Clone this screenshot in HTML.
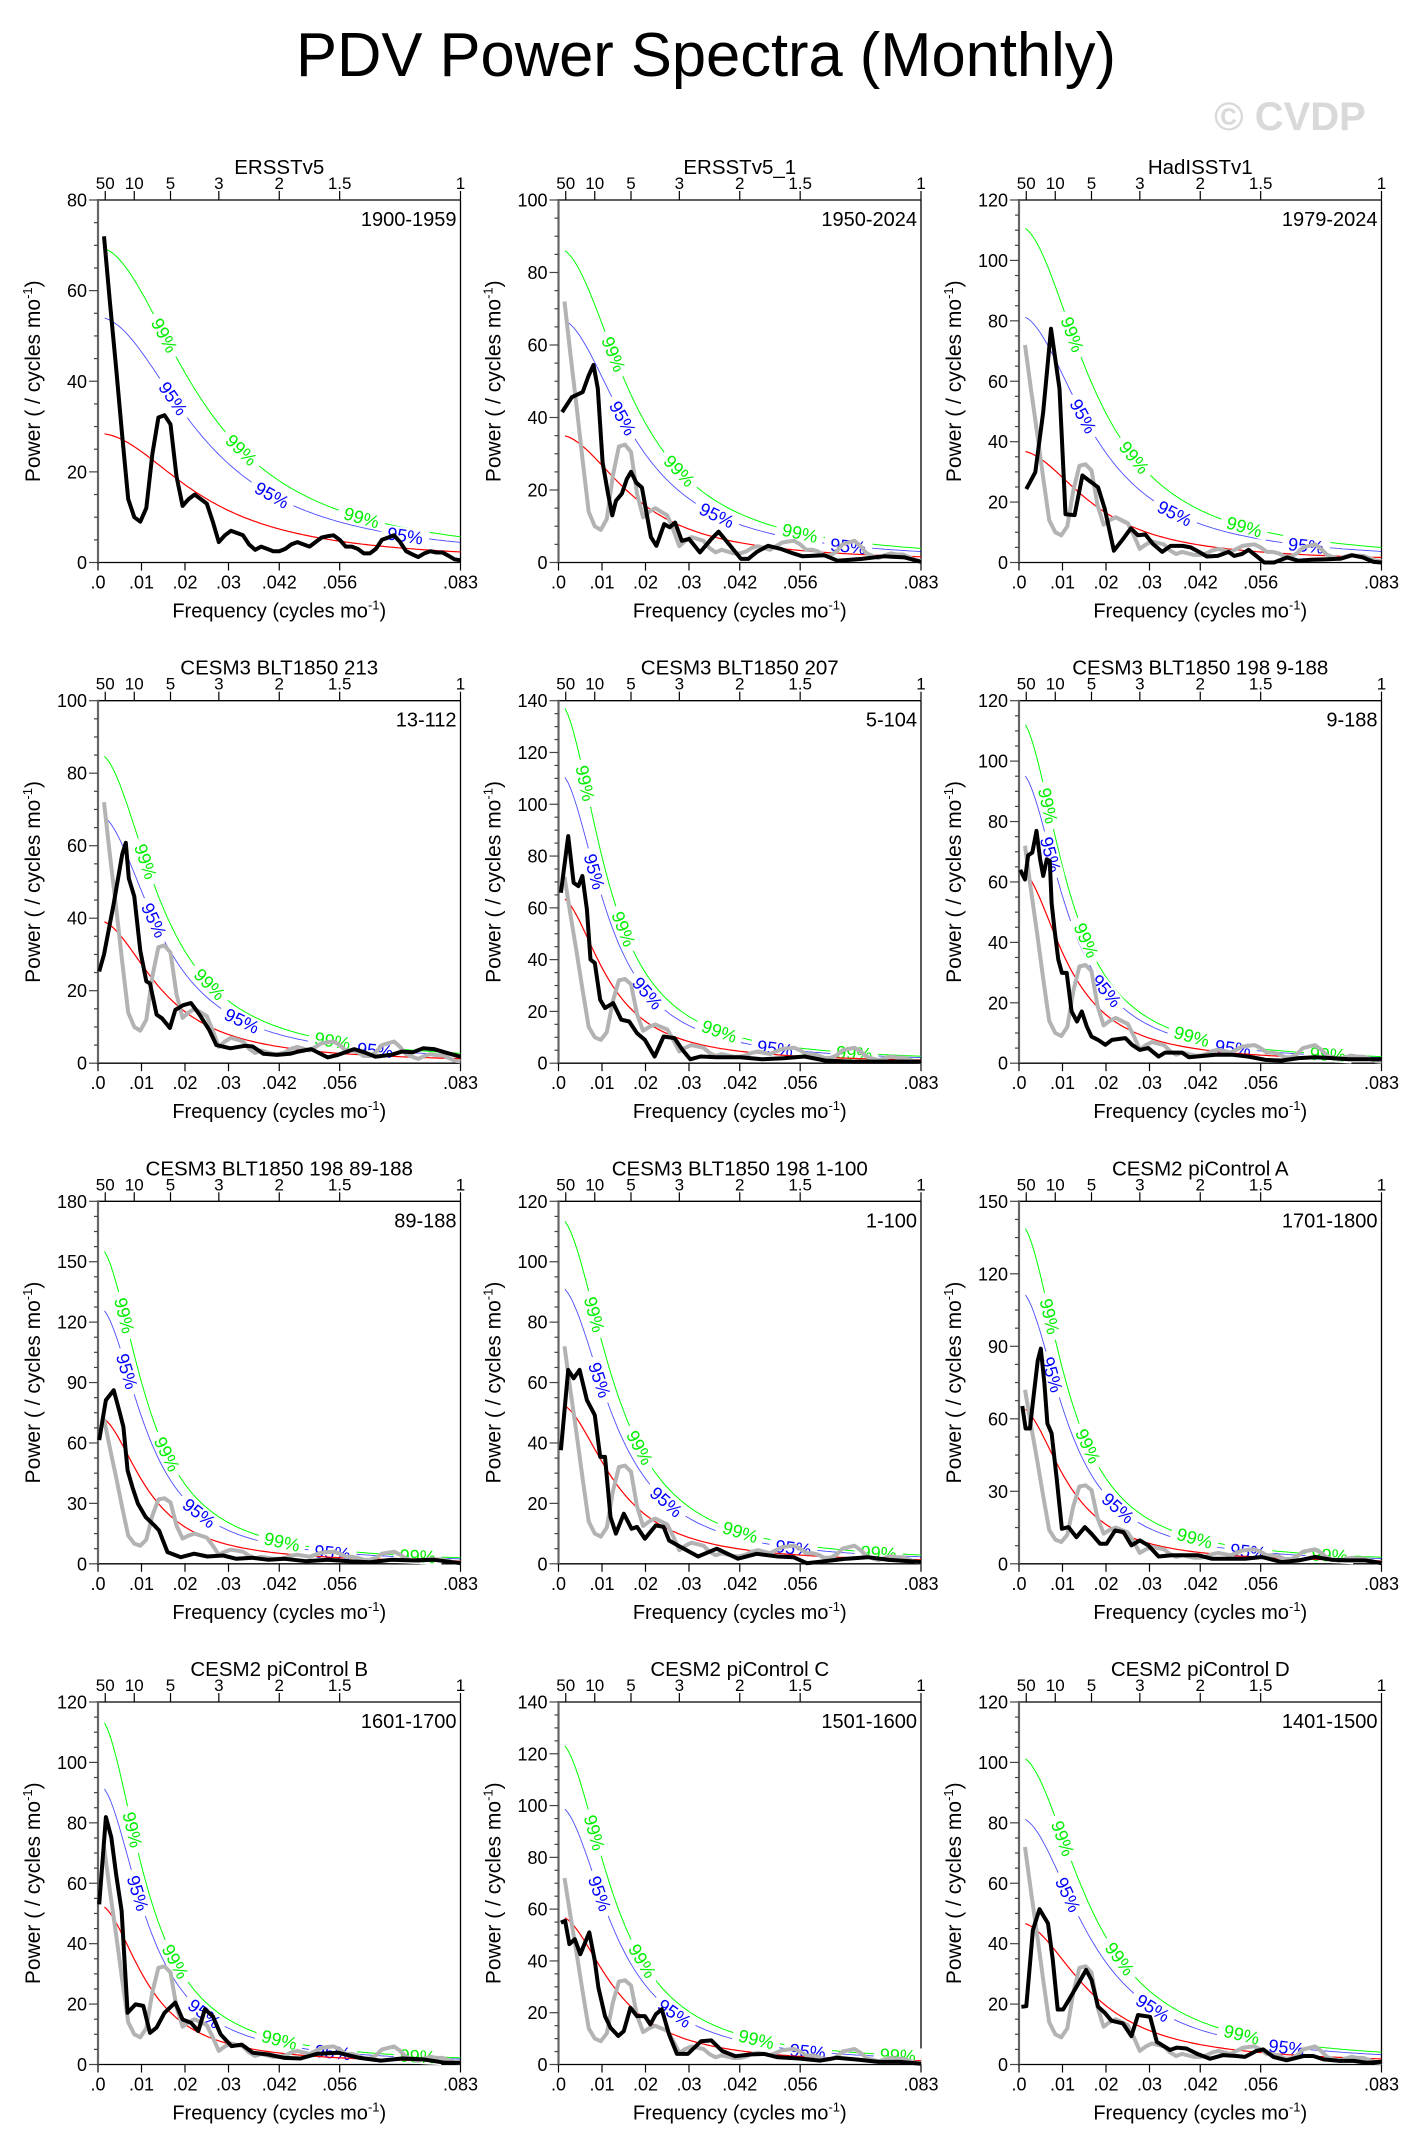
<!DOCTYPE html>
<html><head><meta charset="utf-8"><style>
html,body{margin:0;padding:0;background:#fff;}
svg{display:block;font-family:"Liberation Sans",sans-serif;}
</style></head><body>
<svg id="chart" width="1412" height="2154" viewBox="0 0 1412 2154" xmlns="http://www.w3.org/2000/svg">
<rect width="1412" height="2154" fill="#fff"/>
<text x="706" y="76" text-anchor="middle" font-size="62" textLength="820" lengthAdjust="spacingAndGlyphs">PDV Power Spectra (Monthly)</text>
<text x="1290" y="130" text-anchor="middle" font-size="40" font-weight="bold" fill="#d9d9d9">© CVDP</text>
</svg>
<script>
// shared frequency grid index (f = k/720 cycles per month)
const titles = ["ERSSTv5","ERSSTv5_1","HadISSTv1","CESM3 BLT1850 213","CESM3 BLT1850 207","CESM3 BLT1850 198 9-188","CESM3 BLT1850 198 89-188","CESM3 BLT1850 198 1-100","CESM2 piControl A","CESM2 piControl B","CESM2 piControl C","CESM2 piControl D"];
const years = ["1900-1959","1950-2024","1979-2024","13-112","5-104","9-188","89-188","1-100","1701-1800","1601-1700","1501-1600","1401-1500"];
const yMaxes = [80,100,120,100,140,120,180,120,150,120,140,120];
const ySteps = [20,20,20,20,20,20,30,20,30,20,20,20];
const xTickVals = [0,0.01,0.02,0.03,0.041667,0.055556,0.083333];
const xTickLabels = [".0",".01",".02",".03",".042",".056",".083"];
const periodVals = [50,10,5,3,2,1.5,1];
const periodLabels = ["50","10","5","3","2","1.5","1"];
// red-noise fit: value at f=0, lag-1 autocorrelation
const red0 = [28.5,35.2,37,39.4,64.5,64,73,52.9,65,53,57.4,47];
const redR = [0.857,0.894,0.894,0.91,0.93,0.93,0.93,0.92,0.93,0.93,0.92,0.9];
const fac99 = [2.44,2.46,3.01,2.17,2.16,1.78,2.16,2.17,2.17,2.17,2.17,2.17];
const fac95 = [1.9,1.91,2.21,1.74,1.74,1.51,1.75,1.74,1.74,1.75,1.74,1.74];
// label positions (frequency) along threshold curves
const lab99 = [[.0153,.033,.0606],[.0127,.0278,.0555],[.0123,.0265,.0518],[.011,.0257,.0539],[.0062,.015,.037,.068],[.0067,.0155,.0397,.071],[.0061,.0159,.0423,.0735],[.0083,.0187,.0418,.0736],[.0071,.0159,.0404,.0714],[.008,.0178,.0417,.0735],[.0083,.0193,.0455,.078],[.0101,.0232,.0512]];
const lab95 = [[.0173,.040,.0706],[.0148,.0364,.0666],[.0148,.0358,.066],[.0129,.0331,.0637],[.0083,.0205,.0498],[.0073,.0201,.0492],[.0067,.0233,.0539],[.0095,.0248,.054],[.0077,.0228,.0527],[.0092,.0245,.054],[.0095,.0267,.0573],[.0113,.0308,.0615]];
// spectra: k indices and power values
const k1 = [1,2,3,4,5,6,7,8,9,10,11,12,13,14,15,16,17,18,19,20,21,22,23,24,25,26,27,28,29,30,31,32,33,34,35,36,37,38,39,40,41,42,43,44,45,46,47,48,49,50,51,52,53,54,55,56,57,58,59,60];
const p1 = [72,57,43,28,14,10,9,12,24,32,32.5,30.5,19,12.5,14,15,14,13,9,4.5,6,7,6.5,6,4,2.8,3.5,3,2.5,2.5,3,4,4.5,4,3.5,4.5,5.5,5.8,6,5,3.5,3.5,3,2,2,3,5,5.5,6,4.5,2.5,1.8,1.2,2,2.5,2.2,2.2,1.5,0.7,0.5];
const k2 = [0.6,2.2,4,5,5.8,6.5,7.3,8.2,8.9,9.5,10.5,11.3,12,12.9,13.8,15.3,16.2,17.5,18.4,19.3,20.4,21.6,23.4,25.3,26.5,28,30.2,31.4,32.9,34.7,36.9,38.7,40.4,44,46.2,50.2,53.8,57.3,60];
const p2 = [41.5,45.6,47,51.6,54.5,48,27.6,19,13,17,19,23,25,22,20.7,7,4.6,10.6,9.7,11,6,6.5,2.8,6.5,8.5,5.5,1,1,3,4.6,3.7,2.6,1.7,2,0.5,1,1.7,1.4,0.2];
const k3 = [1.2,2.7,4,5.3,6.7,7.7,9.2,10.5,11.8,13.1,14.2,15.7,17.2,18.5,19.7,20.9,22.2,23.7,25.1,27.1,28.4,29.8,31.1,32.9,34.7,35.6,36.9,38,39.4,40.6,42.2,44.4,46.2,48.4,51.1,53.3,55.1,56.9,58.7,60];
const p3 = [24.3,29.9,49.8,77.4,57.5,16,15.7,28.8,26.8,24.9,17.7,3.9,7.7,11.3,9,9.3,6.1,3.5,5.5,5.5,5,3.5,2,2.2,3.5,2.2,2.8,4.2,2,0,0,1.7,0.6,0.9,1.1,1.3,2.4,1.7,0.2,0];
const k4 = [0.2,1,2.6,4,4.6,5.1,6,7,8,8.6,9.7,10.6,11.9,12.8,14.1,15.4,16.8,18.4,19.6,21.9,24.3,25.6,27.4,29.6,31.8,33.1,35.3,38,39.7,42.4,44.1,45.9,48.5,50.3,52.1,53.8,55.6,57.4,60];
const p4 = [25.3,30,44,57.6,60.8,51,46,31,22.6,22,13.4,12.4,9.7,14.7,16,16.6,13.4,9.2,5,4.1,4.8,4.6,2.6,2.3,2.6,3.2,3.9,1.6,2.3,3.9,3,1.8,2.3,3.2,3,4.1,3.9,3,1.8];
const k5 = [0.4,1.6,2.5,3.3,3.95,4.7,5.3,6,6.9,7.7,9.05,10.4,11.7,13,14.3,15.9,17.4,19.2,20.5,21.8,23.5,26.2,30.1,33.7,37.2,40.7,44.2,48.6,53,60];
const p5 = [65.8,87.7,69.7,68.4,72.3,59.4,40,38.7,24.5,21.3,23.2,16.8,16.1,11.6,9,2.6,10.3,9.7,5.2,1.5,2.6,2.3,2.3,1.5,1.9,2.6,1,0.6,0.6,0.6];
const k6 = [0.2,1,1.5,2.2,2.9,3.5,4,4.6,5.1,5.4,5.9,6.5,7.1,7.9,8.7,9.6,10.4,11.2,12,13.1,14.3,15.4,17.6,18.7,20,21.4,23.1,24.2,27,28.1,30.3,32.5,35.2,38,40.8,43.5,46.3,49,51.8,54.6,57.3,60];
const p6 = [64,60.8,68.8,69.7,76.9,67.5,62,67.5,66.9,53,44,34.3,29.9,29.9,17.1,13.8,17.1,12.2,8.8,7.7,6.1,7.7,8.3,6.1,4.4,5,2.2,3.5,3.5,2,2.4,2.8,2.8,2.2,1.1,0.9,1.7,2,1.7,1.3,1.3,1.3];
const k7 = [0.2,1.3,2.6,3.5,4.2,4.9,5.7,6.6,7.9,9.3,10.1,11.5,13.7,15.9,18.1,20.7,22.9,25.6,28.2,30.9,34.4,38,41.5,45,48.5,52,55.6,60];
const p7 = [61.4,81.3,86.2,76.3,68,46.4,38.1,29.9,23.2,19.1,16.6,5.8,3.3,5,3.6,4.1,2.5,3,2,2.5,1.3,2,1.3,0.8,2,1.7,2,0.3];
const k8 = [0.4,1.6,2.5,3.5,4.7,6,6.9,7.7,8.6,9.5,10.8,12.1,13,14.3,16.1,17.4,18.3,20,23.1,26.2,29.7,32.8,36.3,38.9,41.1,44.2,47.7,51.2,54.7,60];
const p8 = [37.6,64.2,61.4,64.2,54.2,49.2,35.4,35.4,15.5,10,16.6,11.6,12.2,8.3,12.7,12.2,7.7,5.8,2.4,5,1.7,3.3,2.4,2.2,0.2,0.9,1.7,2.2,1.3,0.6];
const k9 = [0.55,1.1,1.8,2.4,3.1,3.6,4.2,4.7,5.4,6.2,7.1,8.2,9.5,10.9,12,13.4,14.5,15.9,17.3,18.6,20,21.4,23.1,25.3,27.5,29.7,31.9,34.6,37.4,40.2,43.5,46.3,49,51.7,54.5,57.3,60];
const p9 = [65.3,56,56,69,84,89,74.7,58,54,36,14.5,15.2,11,15.2,12.4,8.3,8.3,13.8,13.1,7.6,9.7,7.6,3,3.5,3.5,3.5,2.1,2.1,2.1,2.8,0.7,1.4,2.8,1.7,1.4,1.4,0.3];
const k10 = [0.2,1.3,2.2,3,3.9,4.9,6.2,7.5,8.6,9.7,11,12.8,14,15.4,16.6,17.7,19,20.3,22.1,23.8,25.6,28.2,30.9,33.5,36.2,39.7,43.3,46.8,50.3,53.8,57.4,60];
const p10 = [53,81.9,75.2,63,50.9,17.1,19.9,19.4,10.5,12.2,17.1,20.5,14.9,13.8,11.1,18.3,16,10,6.1,6.6,3.9,3.3,2.2,2,3.5,3.9,2.2,1.3,2,1.7,0.6,0.6];
const k11 = [0.4,1.1,1.8,2.7,3.6,5.1,6,6.6,7.7,8.6,9.9,10.8,11.9,13,14.3,15.2,16.1,17.1,18.3,19.6,21.4,23.6,25.3,27.1,29.3,31.9,34.1,36.3,39.8,43.3,46,49.5,53,56.5,60];
const p11 = [54.8,55.5,46.5,48.4,42.6,51,40,29.7,18.7,14.2,11,12.9,21.9,18.7,18.7,15.5,19.4,21.3,11.6,4.1,4.1,9,9.3,5.2,3.2,3.9,4.1,2.8,2.3,1.5,2.6,1.9,1,1,0.3];
const k12 = [0.4,1.2,2.3,3.4,4.8,5.6,6.4,7.3,8.4,10,11.1,12,13.1,14.2,15.3,17.2,18.6,19.7,21.7,22.8,25,26.1,27.7,29.4,31.6,33.8,36,37.4,39.3,40.4,42.1,44.3,47.1,48.7,50.4,53.1,55.4,57.6,60];
const p12 = [19.1,19.3,44.5,51.4,46.7,34.6,18.2,18.2,21.9,27.4,31.3,28,19.1,17.1,14.5,13.6,9.4,16.4,15.8,7.5,4.8,5.6,5.3,3.6,1.9,3.1,2.8,2.5,4.5,5,2.5,1.4,2.8,2.8,1.7,1.2,1.2,0.6,0.9];
const kIdx = [k1,k2,k3,k4,k5,k6,k7,k8,k9,k10,k11,k12];
const powers = [p1,p2,p3,p4,p5,p6,p7,p8,p9,p10,p11,p12];

const NS = "http://www.w3.org/2000/svg";
const svg = document.getElementById("chart");
const FMAX = 0.0833333, W = 362.5, H = 362.5;
const colX = [98, 558.5, 1019], rowY = [200, 700.7, 1201.3, 1702];
function mk(tag, attrs, parent){ const e=document.createElementNS(NS,tag); for(const a in attrs) e.setAttribute(a,attrs[a]); (parent||svg).appendChild(e); return e; }
function redFn(i,f){ const r=redR[i]; return red0[i]*(1-r)*(1-r)/(1-2*r*Math.cos(2*Math.PI*f)+r*r); }

for(let i=0;i<12;i++){
  const x0 = colX[i%3], y0 = rowY[Math.floor(i/3)];
  const ymax = yMaxes[i];
  const X = f => x0 + f/FMAX*W;
  const Y = v => y0 + H - v/ymax*H;
  const g = mk("g",{});
  
  
  const t = mk("text",{x:x0+W/2,y:y0-26,"text-anchor":"middle","font-size":20.5},g); t.textContent=titles[i];
  
  
  const yr = mk("text",{x:x0+W-4,y:y0+26,"text-anchor":"end","font-size":20},g); yr.textContent=years[i];
  
  
  mk("line",{x1:x0,y1:y0,x2:x0+W,y2:y0,stroke:"#000","stroke-width":1.3},g);
  mk("line",{x1:x0+W,y1:y0,x2:x0+W,y2:y0+H,stroke:"#000","stroke-width":1.3},g);
  mk("line",{x1:x0,y1:y0+H,x2:x0+W,y2:y0+H,stroke:"#000","stroke-width":1.3},g);
  mk("line",{x1:x0,y1:y0-1,x2:x0,y2:y0+H+1,stroke:"#666","stroke-width":2.2},g);
  const step = ySteps[i];
  for(let v=0; v<=ymax+1e-6; v+=step/4){
    const major = Math.abs(v/step-Math.round(v/step))<1e-6;
    mk("line",{x1:x0-(major?9:4),y1:Y(v),x2:x0,y2:Y(v),stroke:"#444","stroke-width":1.2},g);
    if(major){ const tl=mk("text",{x:x0-11,y:Y(v)+6.5,"text-anchor":"end","font-size":18},g); tl.textContent=String(Math.round(v));
      
       }
  }
  xTickVals.forEach((f,j)=>{
    mk("line",{x1:X(f),y1:y0+H,x2:X(f),y2:y0+H+8,stroke:"#000","stroke-width":1.2},g);
    const tl=mk("text",{x:X(f),y:y0+H+26,"text-anchor":"middle","font-size":18},g); tl.textContent=xTickLabels[j];
    
    
  });
  periodVals.forEach((p,j)=>{
    const f=1/(12*p);
    mk("line",{x1:X(f),y1:y0,x2:X(f),y2:y0-9,stroke:"#000","stroke-width":1.2},g);
    const tl=mk("text",{x:X(f),y:y0-11,"text-anchor":"middle","font-size":17},g); tl.textContent=periodLabels[j];
    
    
  });
  const xt = mk("text",{x:x0+W/2,y:y0+H+55,"text-anchor":"middle","font-size":20},g);
  xt.innerHTML='Frequency (cycles mo<tspan dy="-8" font-size="13">-1</tspan><tspan dy="8">)</tspan>';
  
  
  const yt = mk("text",{x:0,y:0,"text-anchor":"middle","font-size":21,transform:`translate(${x0-58},${y0+H/2}) rotate(-90)`},g);
  yt.innerHTML='Power ( / cycles mo<tspan dy="-8" font-size="13">-1</tspan><tspan dy="8">)</tspan>';
  
  
  const curve = fac => { let d=""; for(let s=0;s<=120;s++){ const f=0.0015+ (FMAX-0.0015)*s/120; d+=(s?"L":"M")+X(f).toFixed(1)+","+Y(redFn(i,f)*fac).toFixed(1);} return d; };
  const c99 = mk("path",{d:curve(fac99[i]),fill:"none",stroke:"#00ff00","stroke-width":1},g);
  
  
  const c95 = mk("path",{d:curve(fac95[i]),fill:"none",stroke:"#0000ff","stroke-width":0.9,"stroke-opacity":0.7},g);
  
  
  const label = (fac, fs, txt, col) => fs.forEach(f=>{
    const x=X(f), y=Y(redFn(i,f)*fac);
    const x2=X(f+0.0005), y2=Y(redFn(i,f+0.0005)*fac);
    const ang=Math.atan2(y2-y,x2-x)*180/Math.PI;
    const lg = mk("g",{transform:`translate(${x},${y}) rotate(${ang})`},g);
    mk("rect",{x:-24,y:-8,width:48,height:16,fill:"#fff"},lg);
    const tx=mk("text",{x:0,y:6.5,"text-anchor":"middle","font-size":18,fill:col},lg); tx.textContent=txt;
    
    
  });
  label(fac99[i], lab99[i], "99%", "#00ee00");
  label(fac95[i], lab95[i], "95%", "#0000ff");
  let dr=""; for(let s=0;s<=120;s++){ const f=0.0015+(FMAX-0.0015)*s/120; dr+=(s?"L":"M")+X(f).toFixed(1)+","+Y(redFn(i,f)).toFixed(1);}
  const rl = mk("path",{d:dr,fill:"none",stroke:"#ff0000","stroke-width":1.2},g);
  
  
  const line = (ks, ps) => ks.map((k,j)=>(j?"L":"M")+X(k/720).toFixed(1)+","+Y(ps[j]).toFixed(1)).join("");
  if(i>0){
    const gl = mk("path",{d:line(k1,p1),fill:"none",stroke:"#b3b3b3","stroke-width":4,"stroke-linejoin":"round"},g);
    
    
  }
  const bl = mk("path",{d:line(kIdx[i],powers[i]),fill:"none",stroke:"#000","stroke-width":4,"stroke-linejoin":"round"},g);
  
  
}
</script>
</body></html>
